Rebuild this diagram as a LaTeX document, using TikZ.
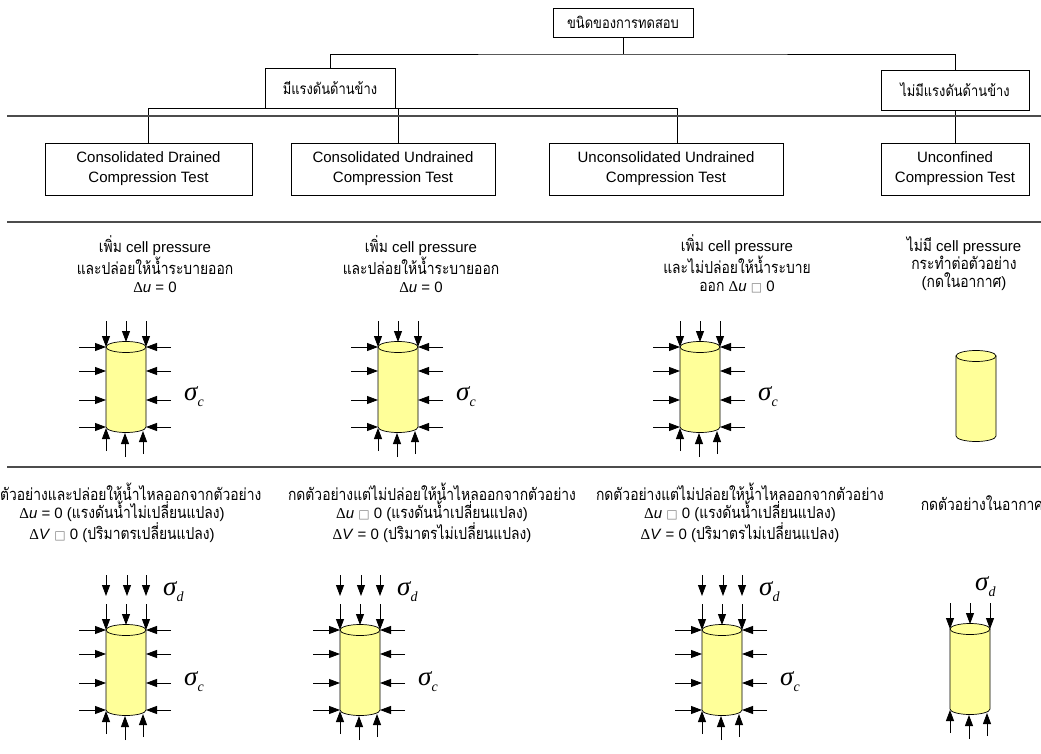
\documentclass[tikz,border=0pt]{standalone}
\usepackage{fontspec}
\setmainfont{Liberation Sans}
\newfontfamily\thaifont[Script=Thai,Scale=1.1,FakeStretch=0.84]{Loma}
\newfontfamily\greekfont{Liberation Serif}
\newfontfamily\glyphfont{DejaVu Sans}
\usetikzlibrary{arrows.meta,positioning}

\definecolor{sample}{HTML}{FFFF99}

\newcommand\thai[1]{{\thaifont #1}}
\newcommand\du{{\greekfont Δ}\textit{u}}
\newcommand\dV{{\greekfont Δ}\textit{V}}
\newcommand\nochar{{\glyphfont\color{gray}\fontsize{12}{12}\selectfont □}}
\newcommand\sig[1]{{\greekfont\itshape\fontsize{27}{27}\selectfont σ\raisebox{-0.22em}{\fontsize{14}{14}\selectfont #1}}}

\tikzset{
  testbox/.style={draw, line width=0.8pt, inner sep=0pt, align=center},
  link/.style={line width=0.8pt},
  rule/.style={draw=black!70, line width=1.2pt},
  load/.style={-{Triangle[length=11pt,width=8pt]}, line width=0.8pt},
  specimen/.style={fill=sample, draw, line width=0.7pt},
  note/.style={align=center, inner sep=0pt, font=\fontsize{15}{18}\selectfont},
  stress/.style={inner sep=0pt, anchor=west}
}

% cylinder sample: centre x, top y
\newcommand\specimen[2]{%
  \draw[specimen] (#1-20,#2) -- (#1-20,#2+80)
    arc[start angle=180,end angle=360,x radius=20pt,y radius=5.5pt] -- (#1+20,#2) -- cycle;
  \draw[specimen] (#1,#2) ellipse[x radius=20pt,y radius=5.5pt];
}

% cell pressure on both sides
\newcommand\cellarrows[2]{%
  \foreach \dy in {0,24,53,80} {
    \draw[load] (#1-47,#2+\dy) -- (#1-20,#2+\dy);
    \draw[load] (#1+45,#2+\dy) -- (#1+20,#2+\dy);
  }
}

% pressure on top and bottom
\newcommand\axialarrows[2]{%
  \draw[load] (#1-20,#2-26) -- (#1-20,#2);
  \draw[load] (#1,#2-26) -- (#1,#2-5);
  \draw[load] (#1+20,#2-26) -- (#1+20,#2);
  \draw[load] (#1-20,#2+104) -- (#1-20,#2+81);
  \draw[load] (#1-1,#2+110) -- (#1-1,#2+86);
  \draw[load] (#1+17,#2+107) -- (#1+17,#2+84);
}

% deviator stress above the sample
\newcommand\deviator[2]{%
  \foreach \dx in {-20,1,20}
    \draw[load] (#1+\dx,#2-55) -- (#1+\dx,#2-34);
}

\begin{document}
\begin{tikzpicture}[x=1pt,y=-1pt]
  \useasboundingbox (0,0) rectangle (1041,754);
  \clip (0,0) rectangle (1041,754);

  % tree of test types
  \node[testbox, minimum width=140pt, minimum height=29pt, font=\thaifont\fontsize{14}{16}\selectfont] (types) at (623,22.5) {ขนิดของการทดสอบ};
  \node[testbox, minimum width=130pt, minimum height=40pt, font=\thaifont\fontsize{14}{16}\selectfont] (lateral) at (330,88) {มีแรงดันด้านข้าง};
  \node[testbox, minimum width=148pt, minimum height=40pt, font=\thaifont\fontsize{14}{16}\selectfont] (nolateral) at (955,90) {ไม่มีแรงดันด้านข้าง};

  \node[testbox, minimum width=207pt, minimum height=52pt, font=\fontsize{15}{20}\selectfont] (cd) at (148.5,169) {Consolidated Drained\\Compression Test};
  \node[testbox, minimum width=204pt, minimum height=52pt, font=\fontsize{15}{20}\selectfont] (cu) at (393,169) {Consolidated Undrained\\Compression Test};
  \node[testbox, minimum width=234pt, minimum height=52pt, font=\fontsize{15}{20}\selectfont] (uu) at (666,169) {Unconsolidated Undrained\\Compression Test};
  \node[testbox, minimum width=148pt, minimum height=52pt, font=\fontsize{15}{20}\selectfont] (uc) at (955,169) {Unconfined\\Compression Test};

  \coordinate (fork) at (623,54);
  \coordinate (cutop) at ([xshift=5pt]cu.north);
  \coordinate (uutop) at ([xshift=11pt]uu.north);
  \draw[link] (types.south) -- (fork);
  \draw[link] (lateral.north) |- (fork) -| (nolateral.north);
  \draw[link] (cd.north) |- (uutop |- lateral.south) -- (uutop);
  \draw[link] (cutop) -- (cutop |- lateral.south);
  \draw[link] (nolateral.south) -- (uc.north);

  \draw[rule] (7,116) -- (1041,116);
  \draw[rule] (7,222) -- (1041,222);
  \draw[rule] (7,467) -- (1041,467);

  % consolidation stage
  \node[note] (cdcell) at (155,264) {\thai{เพิ่ม} cell pressure\\\thai{และปล่อยให้น้ำระบายออก}\\\du{} = 0};
  \node[note] (cucell) at (421,264) {\thai{เพิ่ม} cell pressure\\\thai{และปล่อยให้น้ำระบายออก}\\\du{} = 0};
  \node[note] (uucell) at (737,264) {\thai{เพิ่ม} cell pressure\\\thai{และไม่ปล่อยให้น้ำระบาย}\\\thai{ออก} \du{} \nochar{} 0};
  \node[note] (uccell) at (964,264) {\thai{ไม่มี} cell pressure\\\thai{กระทำต่อตัวอย่าง}\\(\thai{กดในอากาศ})};

  \foreach \cx/\id in {126/cd,398/cu,700/uu} {
    \specimen{\cx}{347}
    \cellarrows{\cx}{347}
    \axialarrows{\cx}{347}
    \node[stress] (\id sc) at (\cx+58,397) {\sig{c}};
  }
  \specimen{976}{356}

  % shearing stage
  \node[note] (cdshear) at (122,513) {\thai{กดตัวอย่างและปล่อยให้น้ำไหลออกจากตัวอย่าง}\\\du{} = 0 (\thai{แรงดันน้ำไม่เปลี่ยนแปลง})\\\dV{} \nochar{} 0 (\thai{ปริมาตรเปลี่ยนแปลง})};
  \node[note] (cushear) at (432,513) {\thai{กดตัวอย่างแต่ไม่ปล่อยให้น้ำไหลออกจากตัวอย่าง}\\\du{} \nochar{} 0 (\thai{แรงดันน้ำเปลี่ยนแปลง})\\\dV{} = 0 (\thai{ปริมาตรไม่เปลี่ยนแปลง})};
  \node[note] (uushear) at (740,513) {\thai{กดตัวอย่างแต่ไม่ปล่อยให้น้ำไหลออกจากตัวอย่าง}\\\du{} \nochar{} 0 (\thai{แรงดันน้ำเปลี่ยนแปลง})\\\dV{} = 0 (\thai{ปริมาตรไม่เปลี่ยนแปลง})};
  \node[note] (ucshear) at (982,503) {\thai{กดตัวอย่างในอากาศ}};

  \foreach \cx/\id in {126/cd,360/cu,722/uu} {
    \deviator{\cx}{630}
    \specimen{\cx}{630}
    \cellarrows{\cx}{630}
    \axialarrows{\cx}{630}
    \node[stress] (\id sd) at (\cx+37,592) {\sig{d}};
    \node[stress] (\id sc2) at (\cx+58,682) {\sig{c}};
  }
  \specimen{970}{629}
  \axialarrows{970}{629}
  \node[stress] (ucsd) at (975,587) {\sig{d}};
\end{tikzpicture}
\end{document}
